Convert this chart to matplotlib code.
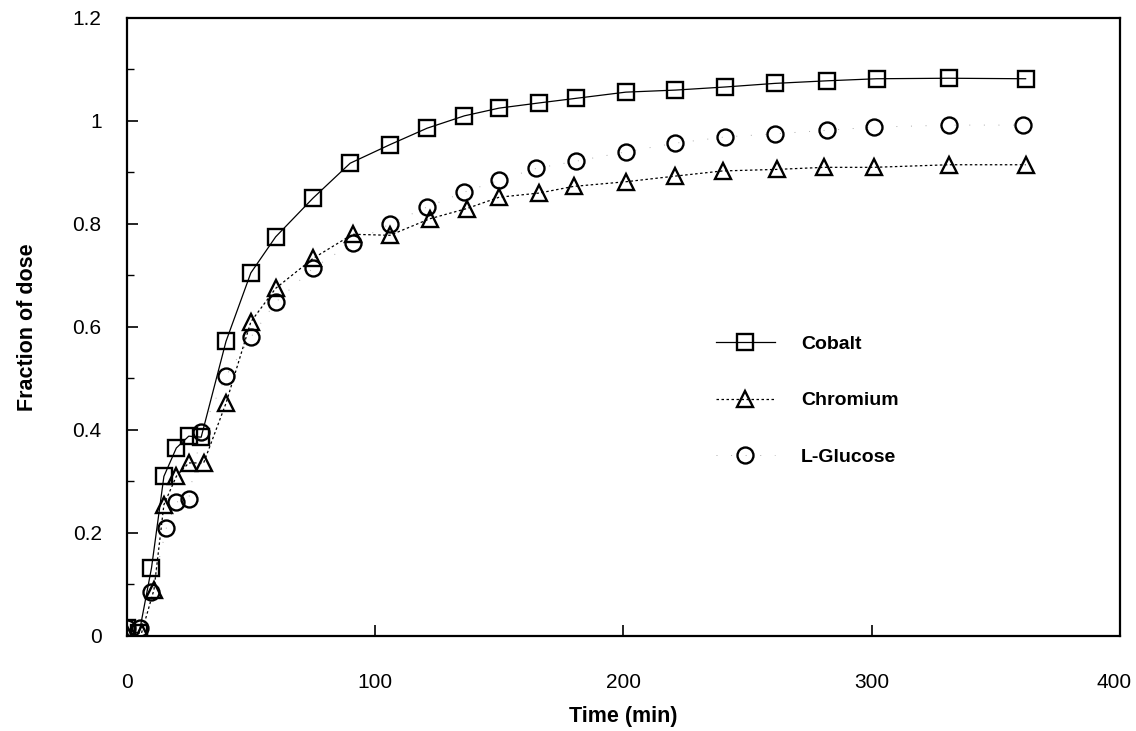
import numpy as np
import matplotlib
matplotlib.use("Agg")
import matplotlib.pyplot as plt
from matplotlib.ticker import MultipleLocator, FuncFormatter

plt.rcParams['font.family'] = ['Liberation Sans', 'DejaVu Sans']

# sampling times (min) and fraction of dose
t_cobalt = [0, 5, 10, 15, 20, 25, 30, 40, 50, 60, 75, 90, 106, 121, 136, 150, 166,
            181, 201, 221, 241, 261, 282, 302, 331, 362]
cobalt = [0.015, 0.005, 0.132, 0.31, 0.365, 0.388, 0.386, 0.572, 0.705, 0.775, 0.85,
          0.918, 0.954, 0.986, 1.01, 1.025, 1.035, 1.044, 1.056, 1.06, 1.066, 1.073,
          1.078, 1.082, 1.083, 1.082]

t_chromium = [0, 6, 11, 15, 20, 25, 31, 40, 50, 60, 75, 91, 106, 122, 137, 150, 166,
              180, 201, 221, 240, 262, 281, 301, 331, 362]
chromium = [0.003, 0.006, 0.09, 0.255, 0.31, 0.336, 0.336, 0.452, 0.61, 0.675, 0.733,
            0.78, 0.778, 0.81, 0.83, 0.852, 0.86, 0.873, 0.882, 0.893, 0.903, 0.906,
            0.91, 0.91, 0.915, 0.915]

t_glucose = [0, 5.5, 10, 16, 20, 25, 30, 40, 50, 60, 75, 91, 106, 121, 136, 150, 165,
             181, 201, 221, 241, 261, 282, 301, 331, 361]
glucose = [0.015, 0.015, 0.085, 0.21, 0.26, 0.266, 0.397, 0.505, 0.58, 0.648, 0.714,
           0.763, 0.80, 0.833, 0.862, 0.885, 0.908, 0.922, 0.94, 0.957, 0.969, 0.975,
           0.982, 0.988, 0.992, 0.992]

XMAX = 400

fig = plt.figure(figsize=(11.36, 7.31), dpi=100)
ax = fig.add_axes([0.1115, 0.130, 0.8744, 0.8454])

mk = dict(markersize=11.5, markerfacecolor='none', markeredgecolor='black',
          markeredgewidth=1.7)

ax.plot(t_glucose, glucose, color='#aaaaaa', lw=0.7, dashes=(1, 14), marker='o',
        label='L-Glucose', zorder=2, **mk)
ax.plot(t_chromium, chromium, color='black', lw=0.9, dashes=(2, 2), marker='^',
        label='Chromium', zorder=3, **mk)
ax.plot(t_cobalt, cobalt, color='black', lw=0.9, ls='-', marker='s',
        label='Cobalt', zorder=4, **mk)

ax.set_xlim(0, XMAX)
ax.set_ylim(0, 1.2)
ax.xaxis.set_major_locator(MultipleLocator(100))
# the 400 label is drawn separately, nudged inside the frame like the original
ax.xaxis.set_major_formatter(FuncFormatter(lambda v, p: '' if v >= XMAX else f'{v:.0f}'))
ax.annotate(str(XMAX), xy=(XMAX, 0), xycoords=('data', 'axes fraction'),
            xytext=(-4.5, -27), textcoords='offset points', ha='center', va='top',
            fontsize=15)
ax.set_yticks([0, 0.2, 0.4, 0.6, 0.8, 1, 1.2])
ax.set_yticklabels(['0', '0.2', '0.4', '0.6', '0.8', '1', '1.2'])
ax.yaxis.set_minor_locator(MultipleLocator(0.1))
ax.tick_params(axis='both', which='major', direction='in', length=8, width=1.2,
               labelsize=15)
ax.tick_params(axis='x', pad=27)
ax.tick_params(axis='y', pad=18)
ax.tick_params(axis='y', which='minor', direction='in', length=5, width=1.0)
for s in ax.spines.values():
    s.set_linewidth(1.6)

ax.set_xlabel('Time (min)', fontsize=15.5, fontweight='bold', labelpad=10)
ax.set_ylabel('Fraction of dose', fontsize=15.5, fontweight='bold', labelpad=25)

h, l = ax.get_legend_handles_labels()
ax.legend(h[::-1], l[::-1], loc='upper left', bbox_to_anchor=(0.576, 0.515),
          frameon=False, handlelength=3.0, labelspacing=2.0, handletextpad=1.35,
          prop=dict(size=14, weight='bold'))

fig.savefig('out.png', dpi=100)
